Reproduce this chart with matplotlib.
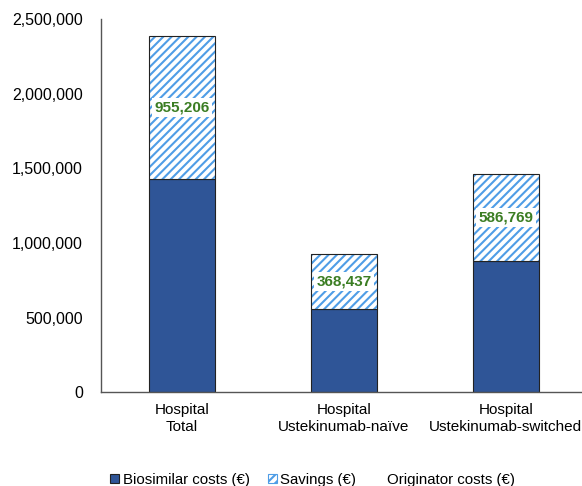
import matplotlib.pyplot as plt
from matplotlib.patches import Patch
from matplotlib.ticker import FuncFormatter

categories = ['Hospital\nTotal', 'Hospital\nUstekinumab-naïve', 'Hospital\nUstekinumab-switched']
biosimilar_costs = [1428000, 556000, 878000]
savings = [955206, 368437, 586769]

plt.rcParams['font.family'] = ['Liberation Sans', 'DejaVu Sans']
plt.rcParams['hatch.linewidth'] = 1.5

dark_blue = '#2f5597'
hatch_blue = '#4f9de6'
label_green = '#3b7d23'

fig = plt.figure(figsize=(5.82, 4.86), dpi=100)
ax = fig.add_axes([0.1735, 0.193, 0.8265, 0.768])

x = range(len(categories))
width = 0.41

ax.bar(x, biosimilar_costs, width, color=dark_blue, edgecolor='#222222', linewidth=0.8)
# hatched savings on top: stripes first, then a plain black outline
ax.bar(x, savings, width, bottom=biosimilar_costs, color='white',
       edgecolor=hatch_blue, hatch='////', linewidth=0)
ax.bar(x, savings, width, bottom=biosimilar_costs, fill=False,
       edgecolor='#222222', linewidth=0.8)

for i, (b, s) in enumerate(zip(biosimilar_costs, savings)):
    ax.text(i, b + s / 2, f'{s:,}', ha='center', va='center', fontsize=11,
            fontweight='bold', color=label_green,
            bbox=dict(facecolor='white', edgecolor='none', pad=2))

ax.set_xlim(-0.5, 2.47)
ax.set_ylim(0, 2500000)
ax.set_yticks(range(0, 2500001, 500000))
ax.yaxis.set_major_formatter(FuncFormatter(lambda v, p: f'{int(v):,}'))
ax.set_xticks(list(x))
ax.set_xticklabels(categories)
ax.tick_params(axis='y', length=0, labelsize=11.5, colors='black', pad=13)
ax.tick_params(axis='x', length=0, labelsize=11, colors='black', pad=8)
ax.spines['top'].set_visible(False)
ax.spines['right'].set_visible(False)
for s in ('left', 'bottom'):
    ax.spines[s].set_color('#555555')
    ax.spines[s].set_linewidth(1.0)

handles = [
    Patch(facecolor=dark_blue, edgecolor='#222222', linewidth=0.8),
    Patch(facecolor='white', edgecolor=hatch_blue, hatch='////', linewidth=0.8),
    Patch(facecolor='white', edgecolor='none'),
]
labels = ['Biosimilar costs (€)', 'Savings (€)', 'Originator costs (€)']
fig.legend(handles, labels, loc='center', bbox_to_anchor=(0.537, 0.013), ncol=3,
           frameon=False, fontsize=10.8, handlelength=0.6, handleheight=0.6,
           handletextpad=0.25, columnspacing=1.2)

fig.savefig('out.png', dpi=100)
